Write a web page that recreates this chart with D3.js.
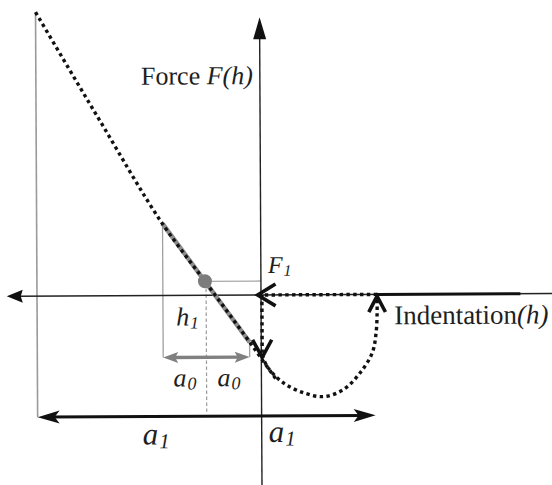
<!DOCTYPE html>
<html>
<head>
<meta charset="utf-8">
<script src="https://cdn.jsdelivr.net/npm/d3@7"></script>
<style>
  html, body { margin: 0; padding: 0; background: #fff; }
  svg { display: block; }
</style>
</head>
<body>
<svg id="chart" width="552" height="485"></svg>
<script>
// Indentation h and force F, both expressed in units of the contact radius a1.
// Loading branch F(h) (dotted line), ordered by h.
const loadH = [-1.0, -0.72, -0.433, -0.25, -0.049, 0.067];
const loadF = [1.268, 0.79, 0.3125, 0.0625, -0.214, -0.379];

// Approach along the zero-force axis, then the jump to contact.
const approachH = [0.518, 0.0];
const snapF = [0.0, -0.265];

// Retraction loop back to the axis.
const retractH = [0.004, 0.027, 0.098, 0.1875, 0.277, 0.366, 0.442, 0.496, 0.513, 0.518, 0.518];
const retractF = [-0.268, -0.321, -0.393, -0.4375, -0.455, -0.424, -0.348, -0.259, -0.170, -0.080, -0.012];

// Operating point (h1, F1) and contact half-widths.
const h1 = -0.245;
const F1 = 0.0625;
const a0 = 0.193;
const a1 = 1.0;
const a1Right = 0.509;        // extent of the a1 arrow past the force axis
const solidAxisEnd = 1.158;   // end of the solid segment on the h axis

// Axis extents.
const hRange = [-1.135, 1.3];
const fRange = [-0.85, 1.24];

const serif = "'Liberation Serif', 'Times New Roman', 'DejaVu Serif', serif";

const svg = d3.select("#chart");
const x = d3.scaleLinear().domain([-1, 1.3]).range([37, 37 + 2.3 * 224]);
const y = d3.scaleLinear().domain([-0.85, 1.27]).range([295 + 0.85 * 224, 295 - 1.27 * 224]);

const root = svg.append("g").attr("transform", `rotate(-0.3, ${x(0)}, ${y(0)})`);

const line = d3.line().x(d => x(d[0])).y(d => y(d[1]));
const zip = (a, b) => a.map((v, i) => [v, b[i]]);

// value of the loading branch at a given h (piecewise linear)
function loadAt(h) {
  for (let i = 0; i < loadH.length - 1; i++) {
    if (h >= loadH[i] && h <= loadH[i + 1]) {
      const t = (h - loadH[i]) / (loadH[i + 1] - loadH[i]);
      return loadF[i] + t * (loadF[i + 1] - loadF[i]);
    }
  }
  return loadF[loadF.length - 1];
}

// filled arrowhead at (tx, ty) pointing along angle ang (radians)
function filledHead(g, tx, ty, ang, len, half, notch, color) {
  const c = Math.cos(ang), s = Math.sin(ang);
  const P = (u, v) => [tx - u * c - v * s, ty - u * s + v * c];
  const pts = [P(0, 0), P(len, half), P(len - notch, 0), P(len, -half)];
  g.append("path").attr("d", "M" + pts.map(p => p.join(",")).join("L") + "Z")
    .attr("fill", color).attr("stroke", "none");
}

// open chevron at (tx, ty) pointing along angle ang
function chevron(g, tx, ty, ang, len, spread) {
  const arm = k => [tx - len * Math.cos(ang + k * spread), ty - len * Math.sin(ang + k * spread)];
  const a = arm(1), b = arm(-1);
  g.append("path").attr("d", `M${a[0]},${a[1]}L${tx},${ty}L${b[0]},${b[1]}`)
    .attr("fill", "none").attr("stroke", "#111").attr("stroke-width", 3.6)
    .attr("stroke-linejoin", "miter").attr("stroke-linecap", "butt");
}

const gray = "#808080";

// ---- light construction lines ----
root.append("line")
  .attr("x1", x(-a1)).attr("y1", y(loadF[0]))
  .attr("x2", x(-a1)).attr("y2", y(-0.54))
  .attr("stroke", "#9a9a9a").attr("stroke-width", 1.6);

root.append("line")
  .attr("x1", x(h1 - a0)).attr("y1", y(loadAt(h1 - a0)))
  .attr("x2", x(h1 - a0)).attr("y2", y(-0.277))
  .attr("stroke", "#a0a0a0").attr("stroke-width", 1.3);
root.append("line")
  .attr("x1", x(h1 + a0)).attr("y1", y(loadAt(h1 + a0)))
  .attr("x2", x(h1 + a0)).attr("y2", y(-0.277))
  .attr("stroke", "#a0a0a0").attr("stroke-width", 1.3);

root.append("line")
  .attr("x1", x(h1)).attr("y1", y(F1))
  .attr("x2", x(0)).attr("y2", y(F1))
  .attr("stroke", "#a8a8a8").attr("stroke-width", 1.3);

root.append("line")
  .attr("x1", x(h1)).attr("y1", y(0.03))
  .attr("x2", x(h1)).attr("y2", y(-0.52))
  .attr("stroke", "#9a9a9a").attr("stroke-width", 1.2)
  .attr("stroke-dasharray", "3.5,2.5");

// ---- axes ----
root.append("line")
  .attr("x1", x(hRange[0]) + 10).attr("y1", y(0))
  .attr("x2", x(hRange[1])).attr("y2", y(0))
  .attr("stroke", "#222").attr("stroke-width", 1.4);
filledHead(root, x(hRange[0]), y(0), Math.PI, 16, 6.5, 2, "#111");

root.append("line")
  .attr("x1", x(0)).attr("y1", y(fRange[0]))
  .attr("x2", x(0)).attr("y2", y(fRange[1]) + 10)
  .attr("stroke", "#222").attr("stroke-width", 1.4);
filledHead(root, x(0), y(fRange[1]), -Math.PI / 2, 22, 6.5, 0, "#111");

root.append("line")
  .attr("x1", x(approachH[0])).attr("y1", y(0))
  .attr("x2", x(solidAxisEnd)).attr("y2", y(0))
  .attr("stroke", "#111").attr("stroke-width", 3);

// ---- contact region on the loading branch ----
root.append("line")
  .attr("x1", x(h1 - a0)).attr("y1", y(loadAt(h1 - a0)))
  .attr("x2", x(h1 + a0)).attr("y2", y(loadAt(h1 + a0)))
  .attr("stroke", "#8c8c8c").attr("stroke-width", 4.5);

// ---- dotted force curves ----
const dotted = (data, curve) => root.append("path")
  .datum(data)
  .attr("d", line.curve(curve || d3.curveLinear))
  .attr("fill", "none").attr("stroke", "#111")
  .attr("stroke-width", 3.4).attr("stroke-dasharray", "3.4,3.4");

dotted(zip(loadH, loadF), d3.curveMonotoneX);
dotted(zip(approachH, [0, 0]));
dotted(zip([0.004, 0.004], snapF));
dotted(zip(retractH, retractF), d3.curveCatmullRom);

// arrowheads along the path
chevron(root, x(-0.015), y(0), Math.PI, 21, 0.55);
chevron(root, x(0.004), y(snapF[1]) + 3, Math.PI / 2, 20, 0.5);
chevron(root, x(retractH[retractH.length - 1]), y(retractF[retractF.length - 1]) - 1, -Math.PI / 2, 18, 0.48);

// ---- operating point ----
root.append("circle")
  .attr("cx", x(h1 - 0.005)).attr("cy", y(F1))
  .attr("r", 7).attr("fill", "#7c7c7c");

// ---- width arrows ----
root.append("line")
  .attr("x1", x(h1 - a0) + 8).attr("y1", y(-0.277))
  .attr("x2", x(h1 + a0) - 8).attr("y2", y(-0.277))
  .attr("stroke", gray).attr("stroke-width", 3.4);
filledHead(root, x(h1 - a0), y(-0.277), Math.PI, 15, 5.5, 3, gray);
filledHead(root, x(h1 + a0), y(-0.277), 0, 15, 5.5, 3, gray);

root.append("line")
  .attr("x1", x(-a1) + 10).attr("y1", y(-0.54))
  .attr("x2", x(a1Right) - 10).attr("y2", y(-0.54))
  .attr("stroke", "#111").attr("stroke-width", 3);
filledHead(root, x(-a1), y(-0.54), Math.PI, 22, 6.5, 5, "#111");
filledHead(root, x(a1Right), y(-0.54), 0, 22, 6.5, 5, "#111");

// ---- labels ----
const label = (px, py, size) => root.append("text")
  .attr("x", px).attr("y", py)
  .attr("font-family", serif).attr("font-size", size).attr("fill", "#1e1e1e");

const forceLabel = label(x(0) - 7, 84, 26).attr("text-anchor", "end");
forceLabel.append("tspan").text("Force ");
forceLabel.append("tspan").attr("font-style", "italic").text("F(h)");

const indLabel = label(394, 325, 27);
indLabel.append("tspan").text("Indentation");
indLabel.append("tspan").attr("font-style", "italic").text("(h)");

function subLabel(px, py, main, sub, size, subSize) {
  const t = label(px, py, size).attr("font-style", "italic");
  t.append("tspan").text(main);
  t.append("tspan").attr("font-size", subSize).attr("dx", 1).attr("dy", size * 0.12).text(sub);
}

subLabel(x(0) + 7, y(F1) - 8, "F", "1", 24, 16);
subLabel(x(h1) - 30, 325, "h", "1", 26, 17);
subLabel(x(h1) - 33, 386, "a", "0", 26, 18);
subLabel(x(h1) + 11, 386, "a", "0", 26, 18);
subLabel(142, 444, "a", "1", 31, 21);
subLabel(x(0) + 7, 442, "a", "1", 31, 21);
</script>
</body>
</html>
